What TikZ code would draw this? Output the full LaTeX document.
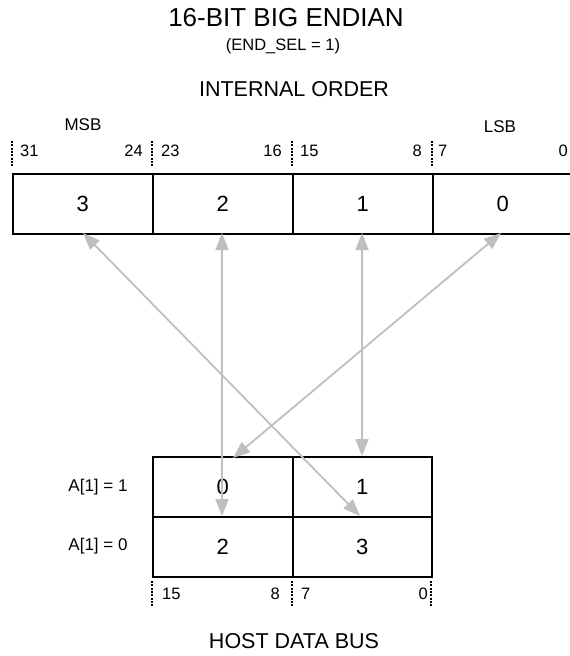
\documentclass[tikz,border=0pt]{standalone}
\usepackage{fontspec}
\setmainfont{Liberation Sans}
\usetikzlibrary{arrows.meta}
\begin{document}
\begin{tikzpicture}[x=1pt,y=-1pt,
  cell/.style={draw=black,line width=1.6pt,minimum width=140pt,minimum height=60pt,inner sep=0pt,anchor=north west,font=\fontsize{22}{24}\selectfont},
  tick/.style={line width=2.2pt,dash pattern=on 2pt off 1.3pt},
  bitnum/.style={font=\fontsize{16.5}{18}\selectfont,inner sep=0pt},
  lbl/.style={font=\fontsize{17}{19}\selectfont,inner sep=0pt},
  heading/.style={font=\fontsize{21.5}{24}\selectfont,inner sep=0pt},
  conn/.style={draw=black!25,line width=1.8pt,{Triangle[length=17pt,width=13pt]}-{Triangle[length=17pt,width=13pt]}},
  ]
\useasboundingbox (0,0) rectangle (570,656);
% titles
\node[font=\fontsize{26}{29}\selectfont,inner sep=0pt] (title) at (286,18) {16-BIT BIG ENDIAN};
\node[font=\fontsize{16.5}{18}\selectfont,inner sep=0pt] (sel) at (283,46) {(END\_SEL = 1)};
\node[heading] (intord) at (294,89) {INTERNAL ORDER};
\node[heading] (host) at (294,641) {HOST DATA BUS};
% top register
\node[cell] (t3) at (12,173) {3};
\node[cell] (t2) at (152,173) {2};
\node[cell] (t1) at (292,173) {1};
\node[cell] (t0) at (432,173) {0};
% top ticks
\coordinate (tk0) at (12,141);
\coordinate (tk1) at (152,141);
\coordinate (tk2) at (292,141);
\coordinate (tk3) at (432,141);
\coordinate (tk4) at (572,141);
\foreach \i in {0,1,2,3,4}{\draw[tick] (tk\i) -- ++(0,26);}
\node[bitnum,anchor=west] (b31) at (20,151) {31};
\node[bitnum,anchor=east] (b24) at (143,151) {24};
\node[bitnum,anchor=west] (b23) at (161,151) {23};
\node[bitnum,anchor=east] (b16) at (282,151) {16};
\node[bitnum,anchor=west] (b15) at (300,151) {15};
\node[bitnum,anchor=east] (b8) at (422,151) {8};
\node[bitnum,anchor=west] (b7) at (438,151) {7};
\node[bitnum,anchor=east] (b0) at (568,151) {0};
\node[lbl] (msb) at (83,125) {MSB};
\node[lbl] (lsb) at (500,127) {LSB};
% host bus
\node[cell] (h0) at (152,456) {0};
\node[cell,minimum width=139pt] (h1) at (292,456) {1};
\node[cell] (h2) at (152,516) {2};
\node[cell,minimum width=139pt] (h3) at (292,516) {3};
\coordinate (bk0) at (152,581);
\coordinate (bk1) at (292,581);
\coordinate (bk2) at (431,581);
\foreach \i in {0,1,2}{\draw[tick] (bk\i) -- ++(0,26);}
\node[bitnum,anchor=west] (c15) at (162,594) {15};
\node[bitnum,anchor=east] (c8) at (280,594) {8};
\node[bitnum,anchor=west] (c7) at (301,594) {7};
\node[bitnum,anchor=east] (c0) at (428,594) {0};
\node[lbl] (a1) at (98,487) {A[1] = 1};
\node[lbl] (a0) at (98,546) {A[1] = 0};
% connectors
\coordinate (p3) at (83,233);
\coordinate (q3) at (360,516);
\coordinate (p2) at (222,233);
\coordinate (q2) at (222,516);
\coordinate (p1) at (362,233);
\coordinate (q1) at (362,456);
\coordinate (p0) at (501,233);
\coordinate (q0) at (233,458);
\draw[conn] (p3) -- (q3);
\draw[conn] (p2) -- (q2);
\draw[conn] (p1) -- (q1);
\draw[conn] (p0) -- (q0);
\end{tikzpicture}
\end{document}
